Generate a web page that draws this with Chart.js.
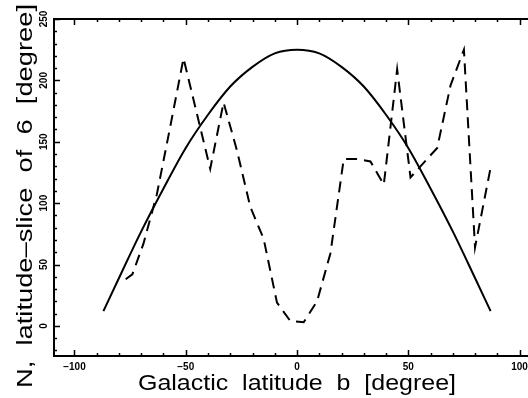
<!DOCTYPE html>
<html>
<head>
<meta charset="utf-8">
<script src="https://cdn.jsdelivr.net/npm/chart.js@4.4.7/dist/chart.umd.min.js"></script>
<style>
  html, body { margin: 0; padding: 0; background: #fff; }
  #wrap { position: relative; width: 528px; height: 398px; }
</style>
</head>
<body>
<div id="wrap"><canvas id="chart"></canvas></div>
<script>
// smooth model curve
var modelLat = [-87, -80, -70, -60, -50, -40, -30, -20, -10, 0, 10, 20, 30, 40, 50, 60, 70, 80, 87];
var modelN = [12, 39, 77, 112, 145, 172, 195, 211, 222, 225, 222, 211, 195, 172, 145, 112, 77, 39, 12];

// counted stars per latitude slice (dashed)
var countLat = [-77, -74, -69, -63, -57, -51, -45, -39, -33, -27, -21, -15, -9, -3, 3, 9, 15, 21, 27, 33, 39, 45, 51, 57, 63, 69, 75, 80, 87];
var countN = [38, 42, 67, 107, 162, 218, 173, 128, 182, 143, 97, 71, 19, 4, 3, 20, 59, 136, 136, 134, 115, 209, 121, 133, 145, 196, 225, 64, 129];

// axis ticks
var xMajor = [-100, -50, 0, 50, 100];
var xMinor = [-100, -90, -80, -70, -60, -50, -40, -30, -20, -10, 0, 10, 20, 30, 40, 50, 60, 70, 80, 90, 100];
var yMajor = [0, 50, 100, 150, 200, 250];
var yMinor = [-20, -10, 0, 10, 20, 30, 40, 50, 60, 70, 80, 90, 100, 110, 120, 130, 140, 150, 160, 170, 180, 190, 200, 210, 220, 230, 240, 250];

var xTitle = "Galactic  latitude  b  [degree]";
var yTitle = "N,  latitude\u2013slice  of  6  [degree]";

function pts(xs, ys) {
    return xs.map(function (v, i) { return { x: v, y: ys[i] }; });
}

// draw text stretched to a given width (IDL's wide vector font)
function fitText(ctx, text, cx, cy, width, angle) {
    var w = ctx.measureText(text).width;
    ctx.save();
    ctx.translate(cx, cy);
    ctx.rotate(angle);
    ctx.scale(width / w, 1);
    ctx.fillText(text, 0, 0);
    ctx.restore();
}

var axesPlugin = {
    id: "idlAxes",
    afterDraw: function (chart) {
        var ctx = chart.ctx, a = chart.chartArea;
        var sx = chart.scales.x, sy = chart.scales.y;
        ctx.save();
        ctx.strokeStyle = "#000";
        ctx.lineWidth = 2;
        ctx.beginPath();
        ctx.moveTo(a.left, a.top - 1); ctx.lineTo(a.left, a.bottom + 1);
        ctx.moveTo(a.left, a.top); ctx.lineTo(a.right, a.top);
        ctx.moveTo(a.left, a.bottom); ctx.lineTo(a.right, a.bottom);
        ctx.stroke();

        ctx.lineWidth = 1.5;
        ctx.beginPath();
        xMinor.forEach(function (v) {
            var px = Math.round(sx.getPixelForValue(v)) + 0.5;
            var len = xMajor.indexOf(v) >= 0 ? 6 : 3;
            ctx.moveTo(px, a.top); ctx.lineTo(px, a.top + len);
            ctx.moveTo(px, a.bottom); ctx.lineTo(px, a.bottom - len);
        });
        yMinor.forEach(function (v) {
            var py = Math.round(sy.getPixelForValue(v)) + 0.5;
            var len = yMajor.indexOf(v) >= 0 ? 6 : 3;
            ctx.moveTo(a.left, py); ctx.lineTo(a.left + len, py);
        });
        ctx.stroke();

        ctx.fillStyle = "#000";
        ctx.font = "bold 10px 'Liberation Sans', Arial, sans-serif";
        ctx.textAlign = "center";
        ctx.textBaseline = "middle";
        xMajor.forEach(function (v) {
            ctx.fillText(String(v).replace("-", "\u2212"), sx.getPixelForValue(v), a.bottom + 11);
        });
        yMajor.forEach(function (v) {
            ctx.save();
            ctx.translate(44, sy.getPixelForValue(v));
            ctx.rotate(-Math.PI / 2);
            ctx.fillText(String(v), 0, 0);
            ctx.restore();
        });

        ctx.font = "22px 'Liberation Sans', Arial, sans-serif";
        ctx.textBaseline = "alphabetic";
        fitText(ctx, xTitle, 297, 390, 318, 0);
        fitText(ctx, yTitle, 32, 196, 384, -Math.PI / 2);
        ctx.restore();
    }
};

new Chart(document.getElementById("chart"), {
    type: "line",
    data: {
        datasets: [
            { label: "model", data: pts(modelLat, modelN), borderColor: "#000", borderWidth: 2, pointRadius: 0, cubicInterpolationMode: "monotone", fill: false },
            { label: "counts", data: pts(countLat, countN), borderColor: "#000", borderWidth: 2, borderDash: [11, 7], pointRadius: 0, tension: 0, fill: false }
        ]
    },
    options: {
        responsive: true,
        maintainAspectRatio: false,
        animation: false,
        events: [],
        layout: { padding: { left: 54, top: 19, right: 0, bottom: 42 } },
        plugins: { legend: { display: false }, tooltip: { enabled: false } },
        scales: {
            x: { type: "linear", display: false, min: -109.2, max: 103.8 },
            y: { type: "linear", display: false, min: -24.5, max: 250 }
        }
    },
    plugins: [axesPlugin]
});
</script>
</body>
</html>
